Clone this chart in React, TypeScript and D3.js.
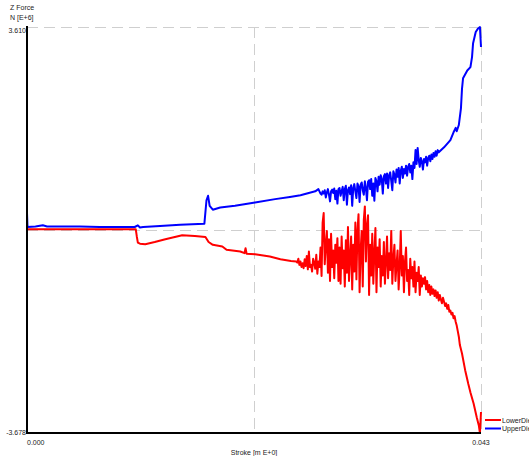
import React from "react";
import * as d3 from "d3";

// Z force (MN) against die stroke (m)
const STROKE_MIN = 0.0;
const STROKE_MAX = 0.043;
const FORCE_MIN = -3.678;
const FORCE_MAX = 3.61;

const xTickLabels = ["0.000", "0.043"];
const yTickLabels = ["3.610", "-3.678"];

// Lower die: smooth lead-in [stroke, force]
const lowerDieLead: [number, number][] = [
  [0, -0.02], [0.0103, -0.02], [0.0104, -0.15], [0.0105, -0.26], [0.0107, -0.28],
  [0.0112, -0.29], [0.0121, -0.25], [0.0131, -0.2], [0.014, -0.16], [0.0147, -0.13],
  [0.0159, -0.14], [0.0169, -0.16], [0.0172, -0.25], [0.0176, -0.3], [0.0185, -0.33],
  [0.0189, -0.39], [0.0202, -0.42], [0.0206, -0.45], [0.0207, -0.36], [0.0208, -0.46],
  [0.0216, -0.47], [0.023, -0.51], [0.024, -0.56], [0.025, -0.59], [0.0255, -0.6],
];
// Lower die: densely sampled noisy section (stroke step 0.1 mm)
const LOWER_NOISE_START = 0.0256;
const NOISE_STEP = 0.0001;
const lowerDieNoise: number[] = [
  -0.62, -0.55, -0.66, -0.6, -0.7, -0.63, -0.72, -0.56, -0.68, -0.5,
  -0.74, -0.42, -0.7, -0.66, -0.78, -0.55, -0.62, -0.73, -0.48, -0.82,
  -0.6, -0.7, -0.35, -0.86, 0.1, 0.27, -0.65, -0.3, -0.05, -0.8,
  -0.2, -0.95, -0.1, -0.7, -0.4, -0.9, -0.3, -0.62, -0.18, -0.95,
  -0.35, -1.0, -0.15, -0.72, -0.4, -1.05, -0.22, -0.8, 0.02, -0.95,
  -0.5, -0.15, -1.1, -0.3, -0.78, 0.1, -0.92, -0.05, 0.25, -1.15,
  -0.4, -0.05, -1.05, 0.15, 0.39, -0.6, 0.05, 0.23, -1.2, -0.3,
  -0.85, -0.1, -1.0, -0.45, 0.0, -1.15, -0.35, -0.7, -0.2, -1.05,
  -0.5, -0.85, -0.25, -1.0, -0.6, -0.15, -0.9, -0.45, -0.75, -0.05,
  -1.0, -0.55, -0.3, -0.95, -0.65, -0.4, -1.1, -0.7, -0.05, -0.85,
  -0.5, -1.15, -0.6, -0.35, -0.95, -0.75, -1.2, -0.55, -0.9, -0.7,
  -1.05, -0.6, -1.15, -0.8, -0.95, -0.7, -1.2, -0.85, -1.05, -0.9,
  -1.0, -0.88, -1.1, -0.95, -1.15, -1.02, -1.2, -1.05, -1.18, -1.1,
  -1.22, -1.12, -1.25, -1.15, -1.3, -1.2, -1.28, -1.35, -1.25, -1.32,
  -1.4, -1.35, -1.45, -1.38, -1.5, -1.48, -1.55, -1.52, -1.62, -1.58,
  -1.68, -1.75, -1.85, -1.95, -2.1,
];
// Lower die: final plunge
const lowerDieTail: [number, number][] = [
  [0.0412, -2.25], [0.0415, -2.55], [0.0418, -2.8], [0.042, -2.95], [0.0423, -3.15],
  [0.0426, -3.4], [0.0428, -3.55], [0.0429, -3.678], [0.043, -3.3],
];

// Upper die: smooth lead-in [stroke, force]
const upperDieLead: [number, number][] = [
  [0, 0.27], [0.00005, 0.02], [0.0008, 0.03], [0.0015, 0.05], [0.0019, 0.03],
  [0.0031, 0.03], [0.005, 0.03], [0.0069, 0.02], [0.0088, 0.02], [0.0102, 0.02],
  [0.0105, 0.05], [0.0107, 0.01], [0.011, 0.02], [0.0126, 0.04], [0.0145, 0.06],
  [0.0168, 0.08], [0.017, 0.5], [0.01715, 0.58], [0.0173, 0.4], [0.0176, 0.33],
  [0.0183, 0.37], [0.0197, 0.4], [0.0216, 0.46], [0.0235, 0.52], [0.0249, 0.56],
  [0.0259, 0.59], [0.0273, 0.66], [0.0276, 0.7], [0.0278, 0.62], [0.0279, 0.6],
];
// Upper die: noisy section (stroke step 0.1 mm)
const UPPER_NOISE_START = 0.028;
const upperDieNoise: number[] = [
  0.66, 0.62, 0.68, 0.55, 0.64, 0.7, 0.6, 0.48, 0.66, 0.69,
  0.63, 0.71, 0.52, 0.67, 0.44, 0.7, 0.72, 0.58, 0.66, 0.74,
  0.5, 0.7, 0.76, 0.42, 0.68, 0.73, 0.61, 0.77, 0.4, 0.72,
  0.79, 0.66, 0.54, 0.8, 0.75, 0.47, 0.78, 0.82, 0.68, 0.6,
  0.84, 0.72, 0.5, 0.83, 0.86, 0.7, 0.88, 0.58, 0.8, 0.49,
  0.9, 0.84, 0.66, 0.92, 0.78, 0.95, 0.88, 0.62, 0.93, 0.97,
  0.8, 0.98, 0.72, 0.95, 1.0, 0.85, 0.68, 1.02, 0.96, 0.82,
  1.05, 0.92, 1.08, 0.8, 1.03, 1.1, 0.9, 1.06, 0.98, 1.12,
  0.94, 1.1, 1.15, 1.0, 1.12, 0.88, 1.18, 1.08, 1.4, 1.15,
  1.44, 1.22, 1.1, 1.26, 1.2, 1.05, 1.24, 1.18, 1.28, 1.12,
  1.26, 1.3, 1.2, 1.32, 1.24, 1.35, 1.28, 1.38, 1.3, 1.4, 1.36,
];
// Upper die: final rise to peak
const upperDieTail: [number, number][] = [
  [0.0395, 1.45], [0.0401, 1.58], [0.0404, 1.72], [0.0406, 1.8], [0.0407, 1.74],
  [0.0409, 1.85], [0.0411, 2.15], [0.0412, 2.5], [0.0413, 2.69], [0.0417, 2.83],
  [0.042, 2.89], [0.04215, 3.07], [0.04225, 3.32], [0.0425, 3.52], [0.0427, 3.58],
  [0.0429, 3.61], [0.043, 3.25],
];

const seriesNames = ["LowerDie", "UpperDie"];
const seriesColors = ["#ff0000", "#0000ff"];

function assemble(
  lead: [number, number][],
  noise: number[],
  start: number,
  tail: [number, number][]
): [number, number][] {
  const mid = noise.map((f, i) => [start + i * NOISE_STEP, f] as [number, number]);
  return [...lead, ...mid, ...tail];
}

const lowerDie = assemble(lowerDieLead, lowerDieNoise, LOWER_NOISE_START, lowerDieTail);
const upperDie = assemble(upperDieLead, upperDieNoise, UPPER_NOISE_START, upperDieTail);

const W = 529;
const H = 456;
const PLOT = { left: 27, right: 481, top: 27, bottom: 433 };

export default function App() {
  const x = d3.scaleLinear().domain([STROKE_MIN, STROKE_MAX]).range([PLOT.left, PLOT.right]);
  const y = d3.scaleLinear().domain([FORCE_MIN, FORCE_MAX]).range([PLOT.bottom, PLOT.top]);
  const line = d3
    .line<[number, number]>()
    .x((d) => x(d[0]))
    .y((d) => y(d[1]));

  const midX = (PLOT.left + PLOT.right) / 2;
  const midY = (PLOT.top + PLOT.bottom) / 2;
  const grid = "#cfcfcf";
  const font = "'Liberation Sans', Arial, sans-serif";
  const textColor = "#222";

  return (
    <div style={{ position: "fixed", left: 0, top: 0 }}>
      <svg width={W} height={H} style={{ display: "block", background: "#fff" }} fontFamily={font}>
        {/* grid */}
        <g stroke={grid} strokeWidth={1} strokeDasharray="11,6" fill="none">
          <line x1={PLOT.left} x2={PLOT.right} y1={PLOT.top + 0.5} y2={PLOT.top + 0.5} />
          <line x1={PLOT.left} x2={PLOT.right} y1={midY + 0.5} y2={midY + 0.5} />
          <line x1={midX + 0.5} x2={midX + 0.5} y1={PLOT.top} y2={PLOT.bottom} />
          <line x1={PLOT.right + 0.5} x2={PLOT.right + 0.5} y1={PLOT.top} y2={PLOT.bottom} />
        </g>

        {/* series */}
        <path d={line(upperDie) ?? ""} fill="none" stroke={seriesColors[1]} strokeWidth={2} strokeLinejoin="round" />
        <path d={line(lowerDie) ?? ""} fill="none" stroke={seriesColors[0]} strokeWidth={2} strokeLinejoin="round" />

        {/* axes */}
        <line x1={PLOT.left} x2={PLOT.left} y1={PLOT.top - 1} y2={PLOT.bottom + 1} stroke="#000" strokeWidth={2} />
        <line x1={PLOT.left} x2={PLOT.right} y1={PLOT.bottom} y2={PLOT.bottom} stroke="#000" strokeWidth={2} />

        {/* axis titles and end labels */}
        <g fontSize={7} fill={textColor}>
          <text x={10} y={10}>Z Force</text>
          <text x={10} y={20}>N [E+6]</text>
          <text x={PLOT.left - 1} y={y(FORCE_MAX) + 6} textAnchor="end">{yTickLabels[0]}</text>
          <text x={PLOT.left - 1} y={y(FORCE_MIN) + 2} textAnchor="end">{yTickLabels[1]}</text>
          <text x={x(STROKE_MIN)} y={445}>{xTickLabels[0]}</text>
          <text x={x(STROKE_MAX)} y={445} textAnchor="middle">{xTickLabels[1]}</text>
          <text x={midX} y={455} textAnchor="middle">Stroke [m E+0]</text>
        </g>

        {/* legend */}
        {seriesNames.map((name, i) => (
          <g key={name} transform={`translate(485, ${420 + i * 8.5})`}>
            <line x1={0} x2={16} y1={0} y2={0} stroke={seriesColors[i]} strokeWidth={2} />
            <text x={17} y={2.5} fontSize={7} fill={textColor}>{name}</text>
          </g>
        ))}
      </svg>
    </div>
  );
}
